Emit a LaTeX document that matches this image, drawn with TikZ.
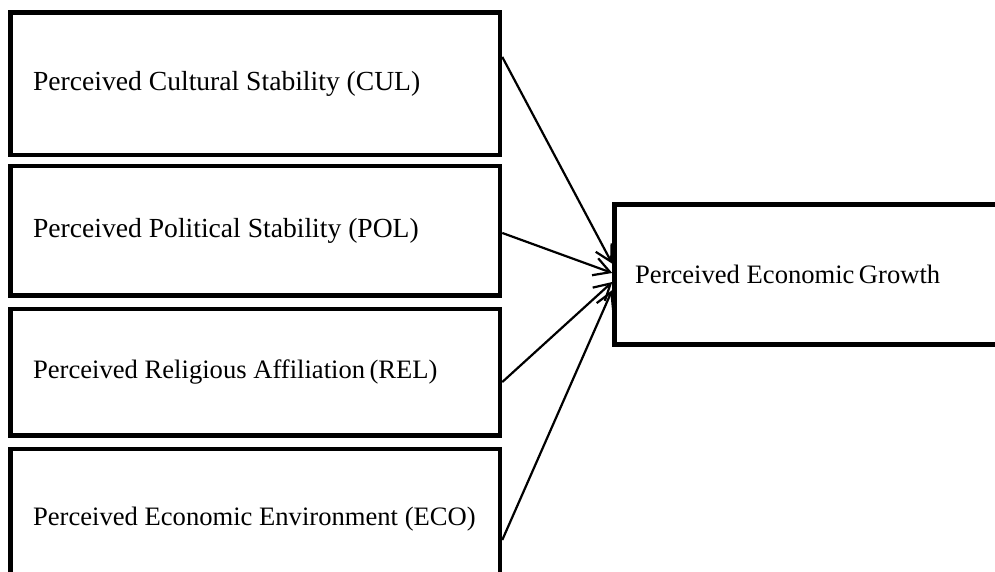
\documentclass[tikz,border=0pt]{standalone}
\usepackage{fontspec}
\setmainfont{Liberation Serif}
\usetikzlibrary{arrows.meta}
\begin{document}
\begin{tikzpicture}[x=0.5pt,y=-0.5pt,
 box/.style={draw, line width=2.25pt, inner sep=0pt, minimum width=244.75pt, anchor=center},
 txt/.style={inner sep=0pt, anchor=west, font=\fontsize{13.3}{16}\selectfont},
 wide/.style={font=\fontsize{13.8}{16}\selectfont},
 link/.style={line width=1.1pt, -{Straight Barb[length=8pt,width=9pt]}}]
\useasboundingbox (0,0) rectangle (995,572);
\clip (0,0) rectangle (995,572);
\node[box, minimum height=71.25pt] (cul) at (255.25,83.75) {};
\node[box, minimum height=64.75pt] (pol) at (255.25,230.75) {};
\node[box, minimum height=63.25pt] (rel) at (255.25,372.25) {};
\node[box, minimum height=70.5pt] (eco) at (255.25,519.5) {};
\node[box, minimum width=197.5pt, minimum height=70pt] (eg) at (812,274.5) {};
\node[txt, wide] (culT) at ([xshift=12.25pt]cul.west) {Perceived Cultural Stability (CUL)};
\node[txt, wide] (polT) at ([xshift=12.25pt]pol.west) {Perceived Political Stability (POL)};
\node[txt] (relT) at ([xshift=12.25pt]rel.west) {Perceived Religious Affiliation\,(REL)};
\node[txt] (ecoT) at ([xshift=12.25pt]eco.west) {Perceived Economic Environment (ECO)};
\node[txt] (egT) at ([xshift=11.25pt]eg.west) {Perceived Economic\,Growth};
\draw[link] ([yshift=13.4pt]cul.east) -- ([yshift=5.4pt]eg.west);
\draw[link] ([yshift=-1.1pt]pol.east) -- ([yshift=0.75pt]eg.west);
\draw[link] ([yshift=-4.9pt]rel.east) -- ([yshift=-3.75pt]eg.west);
\draw[link] ([yshift=-10.25pt]eco.east) -- ([yshift=-7.75pt]eg.west);
\end{tikzpicture}
\end{document}
